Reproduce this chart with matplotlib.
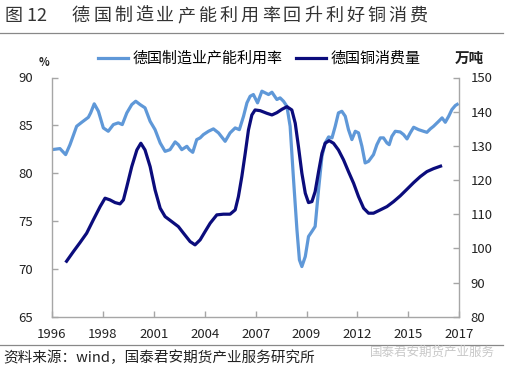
import matplotlib
matplotlib.use("Agg")
import matplotlib.pyplot as plt
import numpy as np

plt.rcParams['font.family'] = ['Noto Sans CJK SC', 'DejaVu Sans']

title_label = "图 12"
title = "德国制造业产能利用率回升利好铜消费"
source = "资料来源：wind，国泰君安期货产业服务研究所"
watermark = "国泰君安期货产业服务"
series1_name = "德国制造业产能利用率"
series2_name = "德国铜消费量"
left_unit = "%"
right_unit = "万吨"
tick_labels = ["1996", "1998", "2001", "2004", "2007", "2009", "2012", "2015", "2017"]

# 德国制造业产能利用率 (%)
util_x = [1996.0, 1996.42, 1996.72, 1996.95, 1997.30, 1997.57, 1997.92, 1998.04, 1998.23, 1998.45,
          1998.71, 1998.97, 1999.24, 1999.50, 1999.71, 1999.95, 2000.21, 2000.42, 2000.65, 2000.91,
          2001.18, 2001.44, 2001.71, 2001.97, 2002.23, 2002.50, 2002.67, 2002.85, 2003.12, 2003.25,
          2003.43, 2003.64, 2003.82, 2003.99, 2004.26, 2004.52, 2004.79, 2005.14, 2005.40, 2005.67,
          2005.89, 2006.11, 2006.29, 2006.46, 2006.63, 2006.85, 2007.08, 2007.25, 2007.43, 2007.61,
          2007.87, 2008.04, 2008.22, 2008.40, 2008.57, 2008.75, 2008.93, 2009.06, 2009.19, 2009.37,
          2009.54, 2009.72, 2009.89, 2010.07, 2010.25, 2010.42, 2010.60, 2010.78, 2010.95, 2011.12,
          2011.30, 2011.48, 2011.65, 2011.83, 2012.01, 2012.18, 2012.36, 2012.53, 2012.71, 2012.97,
          2013.15, 2013.33, 2013.50, 2013.68, 2013.80, 2013.94, 2014.12, 2014.38, 2014.56, 2014.74,
          2014.91, 2015.09, 2015.35, 2015.61, 2015.79, 2015.97, 2016.14, 2016.41, 2016.59, 2016.76,
          2016.94, 2017.11, 2017.29, 2017.46]
util_y = [82.46, 82.57, 81.94, 82.98, 84.90, 85.32, 85.84, 86.30, 87.25, 86.47,
          84.73, 84.38, 85.08, 85.26, 85.08, 86.30, 87.17, 87.52, 87.17, 86.83,
          85.42, 84.55, 83.16, 82.28, 82.46, 83.27, 82.98, 82.46, 82.81, 82.46,
          82.18, 83.51, 83.69, 84.03, 84.38, 84.63, 84.21, 83.33, 84.21, 84.73,
          84.55, 85.95, 87.35, 88.04, 88.22, 87.35, 88.57, 88.40, 88.22, 88.46,
          87.70, 87.87, 87.52, 86.99, 84.90, 79.32, 74.08, 70.94, 70.24, 71.29,
          73.38, 73.91, 74.43, 78.27, 81.76, 83.16, 83.79, 83.69, 84.90, 86.30,
          86.47, 85.95, 84.55, 83.51, 84.38, 84.21, 82.81, 81.07, 81.24, 81.94,
          82.98, 83.69, 83.69, 83.16, 82.98, 83.85, 84.38, 84.31, 84.03, 83.58,
          84.21, 84.80, 84.55, 84.38, 84.27, 84.63, 84.90, 85.42, 85.78, 85.32,
          85.95, 86.65, 87.07, 87.28]

# 德国铜消费量 (万吨)
copper_x = [1996.72, 1997.13, 1997.48, 1997.83, 1998.18, 1998.54, 1998.80, 1999.06, 1999.33, 1999.59,
            1999.77, 1999.95, 2000.21, 2000.48, 2000.69, 2000.91, 2001.18, 2001.44, 2001.71, 2001.97,
            2002.32, 2002.67, 2002.94, 2003.29, 2003.55, 2003.82, 2004.08, 2004.35, 2004.70, 2005.05,
            2005.40, 2005.67, 2005.84, 2006.02, 2006.20, 2006.37, 2006.55, 2006.72, 2006.99, 2007.34,
            2007.61, 2007.87, 2008.14, 2008.40, 2008.66, 2008.84, 2009.01, 2009.19, 2009.37, 2009.54,
            2009.72, 2009.89, 2010.07, 2010.25, 2010.42, 2010.63, 2010.86, 2011.12, 2011.39, 2011.65,
            2011.92, 2012.18, 2012.45, 2012.71, 2012.97, 2013.33, 2013.68, 2014.03, 2014.38, 2014.74,
            2015.09, 2015.44, 2015.79, 2016.14, 2016.59]
copper_y = [95.85, 99.06, 101.70, 104.44, 108.33, 112.22, 114.68, 114.18, 113.39, 113.01,
            114.18, 118.07, 123.92, 128.80, 130.76, 128.80, 123.92, 117.11, 111.75, 109.30,
            107.84, 106.37, 104.44, 101.99, 101.02, 102.49, 104.91, 107.37, 109.80, 110.00,
            110.00, 111.26, 115.15, 121.00, 127.84, 134.65, 139.04, 140.50, 140.29, 139.53,
            139.04, 139.71, 140.70, 141.46, 140.50, 136.61, 129.77, 121.99, 116.14, 113.39,
            113.68, 116.60, 122.40, 127.84, 130.76, 131.52, 130.76, 128.80, 125.88, 122.46,
            119.06, 115.15, 111.75, 110.29, 110.29, 111.26, 112.22, 113.68, 115.35, 117.31,
            119.24, 121.00, 122.46, 123.33, 124.21]

light = "#5f98d8"
navy = "#0b0c7c"
spine_c = "#a6a6a6"
text_c = "#222222"

fig = plt.figure(figsize=(5.07, 3.74), dpi=100)
W, H = 507.0, 374.0
ax = fig.add_axes([52 / W, 1 - 316.7 / H, (459.3 - 52) / W, (316.7 - 77.5) / H])
ax2 = ax.twinx()

x0, x1 = 1996.0, 2017.5
ax.plot(util_x, util_y, color=light, lw=2.3, solid_joinstyle='round', solid_capstyle='butt', zorder=2)
ax2.plot(copper_x, copper_y, color=navy, lw=2.3, solid_joinstyle='round', solid_capstyle='butt', zorder=3)

ax.set_xlim(x0, x1)
ax.set_ylim(65, 90)
ax2.set_ylim(80, 150)
ax.set_yticks(np.arange(65, 91, 5))
ax2.set_yticks(np.arange(80, 151, 10))
ax.set_xticks(np.linspace(x0, x1, len(tick_labels)))
ax.set_xticklabels(tick_labels)

for a in (ax, ax2):
    for s in a.spines.values():
        s.set_color(spine_c)
        s.set_linewidth(1.0)
    a.spines['top'].set_visible(False)
    a.tick_params(direction='in', length=4, width=1, colors=spine_c, labelcolor=text_c, labelsize=9.5)
ax.spines['right'].set_visible(False)
ax2.spines['left'].set_visible(False)
ax2.spines['bottom'].set_visible(False)
ax.tick_params(axis='x', pad=8)
ax.tick_params(axis='y', pad=14)
ax2.tick_params(axis='y', pad=8)

# title (spaced out like the original report heading)
fig.text(5 / W, 1 - 16 / H, title_label, fontsize=13, color="#333333", va='center', ha='left')
step = 21.1
for i, ch in enumerate(title):
    fig.text((72 + i * step) / W, 1 - 16 / H, ch, fontsize=13, color="#333333", va='center', ha='left')

fig.add_artist(plt.Line2D([0, 503 / W], [1 - 33 / H, 1 - 33 / H], color="#888888", lw=0.9))
fig.add_artist(plt.Line2D([0, 503 / W], [1 - 345 / H, 1 - 345 / H], color="#888888", lw=0.9))
fig.text(3 / W, 1 - 358 / H, source, fontsize=10.5, color="#222222", va='center', ha='left')
fig.text(370 / W, 1 - 352 / H, watermark, fontsize=9, color="#c8c8c8", va='center', ha='left')

# units
fig.text(44 / W, 1 - 62 / H, left_unit, fontsize=8, fontweight='bold', color="#222222", va='center', ha='center')
fig.text(469 / W, 1 - 58 / H, right_unit, fontsize=10.5, fontweight='bold', color="#222222", va='center', ha='center')

# legend
h1, = ax.plot([], [], color=light, lw=2.3)
h2, = ax.plot([], [], color=navy, lw=2.3)
fig.legend([h1, h2], [series1_name, series2_name], loc='center', bbox_to_anchor=(259 / W, 1 - 59 / H),
           ncol=2, frameon=False, fontsize=10.8, handlelength=2.0, handletextpad=0.3, columnspacing=0.9)

fig.savefig("out.png", dpi=100)
